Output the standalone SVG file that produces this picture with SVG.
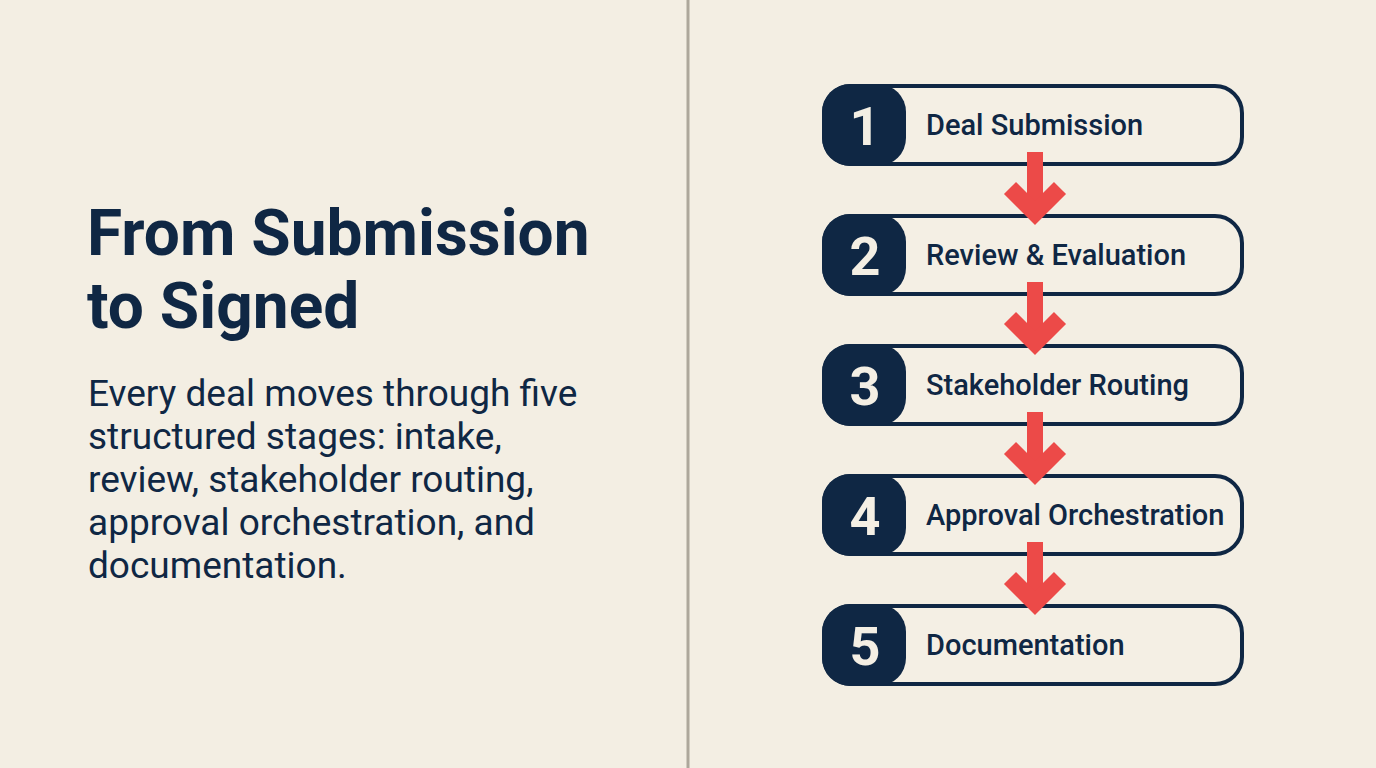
<svg xmlns="http://www.w3.org/2000/svg" width="1376" height="768" viewBox="0 0 1376 768">
  <defs>
    <style>
      .bg { fill: #F3EEE3; }
      .divider { stroke: #ADA79B; stroke-width: 3; }
      .title { font-family: Roboto, "Liberation Sans", sans-serif; font-weight: 700; font-size: 64px; fill: #0F2744; }
      .body { font-family: Roboto, "Liberation Sans", sans-serif; font-weight: 400; font-size: 37px; fill: #0F2744; }
      .pill { fill: #F4EFE4; stroke: #0F2744; stroke-width: 4; }
      .badge { fill: #0F2744; }
      .num { font-family: Roboto, "Liberation Sans", sans-serif; font-weight: 700; font-size: 54px; fill: #F4EFE4; text-anchor: middle; }
      .label { font-family: Roboto, "Liberation Sans", sans-serif; font-weight: 500; font-size: 29px; fill: #0F2744; }
      .shaft { fill: #EC4A48; }
      .head { fill: none; stroke: #EC4A48; stroke-width: 17; stroke-linejoin: miter; stroke-linecap: butt; }
    </style>
  </defs>
  <rect class="bg" x="0" y="0" width="1376" height="768"/>
  <line class="divider" x1="688" y1="0" x2="688" y2="768"/>

  <g id="intro">
    <text class="title" x="87" y="255">From Submission</text>
    <text class="title" x="87" y="328">to Signed</text>
    <text class="body" x="88" y="406">Every deal moves through five</text>
    <text class="body" x="88" y="449">structured stages: intake,</text>
    <text class="body" x="88" y="492">review, stakeholder routing,</text>
    <text class="body" x="88" y="535">approval orchestration, and</text>
    <text class="body" x="88" y="578">documentation.</text>
  </g>

  <g id="step1">
    <rect class="pill" x="824" y="86" width="418" height="78" rx="27"/>
    <rect class="badge" x="822" y="84" width="84" height="82" rx="28"/>
    <text class="num" x="865" y="145">1</text>
    <text class="label" x="926" y="135">Deal Submission</text>
  </g>
  <g id="step2">
    <rect class="pill" x="824" y="216" width="418" height="78" rx="27"/>
    <rect class="badge" x="822" y="214" width="84" height="82" rx="28"/>
    <text class="num" x="865" y="275">2</text>
    <text class="label" x="926" y="265">Review &amp; Evaluation</text>
  </g>
  <g id="step3">
    <rect class="pill" x="824" y="346" width="418" height="78" rx="27"/>
    <rect class="badge" x="822" y="344" width="84" height="82" rx="28"/>
    <text class="num" x="865" y="405">3</text>
    <text class="label" x="926" y="395">Stakeholder Routing</text>
  </g>
  <g id="step4">
    <rect class="pill" x="824" y="476" width="418" height="78" rx="27"/>
    <rect class="badge" x="822" y="474" width="84" height="82" rx="28"/>
    <text class="num" x="865" y="535">4</text>
    <text class="label" x="926" y="525">Approval Orchestration</text>
  </g>
  <g id="step5">
    <rect class="pill" x="824" y="606" width="418" height="78" rx="27"/>
    <rect class="badge" x="822" y="604" width="84" height="82" rx="28"/>
    <text class="num" x="865" y="665">5</text>
    <text class="label" x="926" y="655">Documentation</text>
  </g>

  <g id="connectors">
    <g id="arrow1-2">
      <rect class="shaft" x="1027" y="152" width="16" height="60"/>
      <polyline class="head" points="1010,188 1035,213 1060,188"/>
    </g>
    <g id="arrow2-3">
      <rect class="shaft" x="1027" y="282" width="16" height="60"/>
      <polyline class="head" points="1010,318 1035,343 1060,318"/>
    </g>
    <g id="arrow3-4">
      <rect class="shaft" x="1027" y="412" width="16" height="60"/>
      <polyline class="head" points="1010,448 1035,473 1060,448"/>
    </g>
    <g id="arrow4-5">
      <rect class="shaft" x="1027" y="542" width="16" height="60"/>
      <polyline class="head" points="1010,578 1035,603 1060,578"/>
    </g>
  </g>
</svg>
